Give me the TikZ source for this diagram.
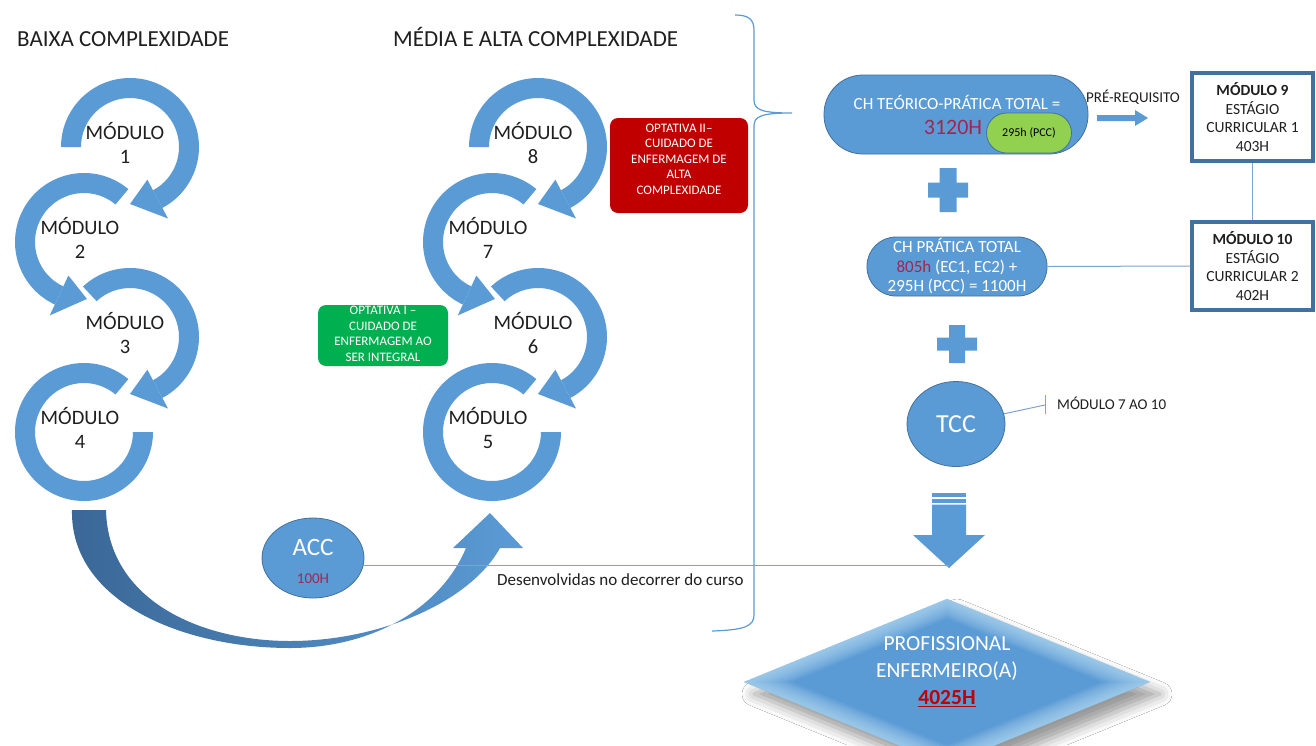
\documentclass[tikz,border=0pt]{standalone}
\usepackage{fontspec}
\setmainfont{Carlito}
\usetikzlibrary{calc,shapes.geometric,shadows.blur}

\definecolor{ringblue}{HTML}{5B9BD5}
\definecolor{darkblue}{HTML}{41719C}
\definecolor{deepblue}{HTML}{3A6796}
\definecolor{hourred}{HTML}{A0284E}
\definecolor{optred}{HTML}{C00000}
\definecolor{optgreen}{HTML}{00B050}
\definecolor{pccgreen}{HTML}{92D050}
\definecolor{thinline}{HTML}{7FA3CC}
\definecolor{glowblue}{HTML}{C4E6FA}

\newcommand{\fs}[2]{\fontsize{#1pt}{#2pt}\selectfont}
% body of a circular arrow: annular sector from angle #3 to angle #4
\newcommand{\ringarc}[4]{\fill[ringblue] ($(#1,#2)+(#3:69)$) arc[start angle=#3,end angle=#4,radius=69]
  -- ($(#1,#2)+(#4:49)$) arc[start angle=#4,end angle=#3,radius=49] -- cycle;}
% white halo separating an arrow head from the ring below it
\newcommand{\ringhalo}[4]{\draw[white,line width=3.5pt,line join=round] ($(#1,#2)+(#3:37)$) -- ($(#1,#2)+(#4:57)$) -- ($(#1,#2)+(#3:81)$);}
\newcommand{\ringhead}[4]{\fill[ringblue] ($(#1,#2)+(#3:37)$) -- ($(#1,#2)+(#4:57)$) -- ($(#1,#2)+(#3:81)$) -- cycle;}
% ring with head: centre x, centre y, start angle, head base angle, tip angle
\newcommand{\ringarrow}[5]{\ringhalo{#1}{#2}{#4}{#5}\ringarc{#1}{#2}{#3}{#4}\ringhead{#1}{#2}{#4}{#5}}

\begin{document}
\begin{tikzpicture}[x=1pt,y=1pt,
  modlabel/.style={align=center,font=\fs{20.5}{24},text=black!88,inner sep=0pt},
  heading/.style={font=\fs{23}{27},text=black!88,inner sep=0pt,anchor=base west},
  pill/.style={draw=darkblue,line width=0.8pt,fill=ringblue},
  optbox/.style={rounded corners=8pt,inner sep=0pt},
  opttext/.style={text=white,align=center,font=\fs{13}{15.5},inner sep=0pt},
  mbox/.style={draw=darkblue,line width=3.5pt,fill=white,align=center,
    font=\fs{15.5}{18.5},text=black!88,inner sep=0pt},
  conn/.style={draw=thinline,line width=1pt},
  note/.style={text=black!88,inner sep=0pt}]
\useasboundingbox (0,0) rectangle (1316,-745);
\fill[white] (0,0) rectangle (1316,-745);

% headings
\node[heading] (hlow) at (17,-46) {BAIXA COMPLEXIDADE};
\node[heading] (hhigh) at (393,-46) {MÉDIA E ALTA COMPLEXIDADE};

% low complexity chain
\ringarc{84}{-432}{50}{360}
\ringarrow{130}{-337}{133}{-62}{-90}
\ringarrow{84}{-242}{50}{245}{273}
\ringarrow{130}{-147}{180}{-62}{-90}
\node[modlabel] (m1) at (125,-143) {MÓDULO\\1};
\node[modlabel] (m2) at (80,-238) {MÓDULO\\2};
\node[modlabel] (m3) at (125,-333) {MÓDULO\\3};
\node[modlabel] (m4) at (80,-428) {MÓDULO\\4};

% medium and high complexity chain
\ringarc{492}{-432}{50}{360}
\ringarrow{538}{-337}{133}{-62}{-90}
\ringarrow{492}{-242}{50}{245}{273}
\ringarrow{538}{-147}{180}{-62}{-90}
\node[modlabel] (m8) at (533,-143) {MÓDULO\\8};
\node[modlabel] (m7) at (488,-238) {MÓDULO\\7};
\node[modlabel] (m6) at (533,-333) {MÓDULO\\6};
\node[modlabel] (m5) at (488,-428) {MÓDULO\\5};

% elective boxes
\node[optbox,fill=optgreen,minimum width=130pt,minimum height=61pt] (opt1) at (383,-335.5) {};
\node[opttext] (opt1t) at (383,-334) {OPTATIVA I --\\CUIDADO DE\\ENFERMAGEM AO\\SER INTEGRAL};
\node[optbox,fill=optred,minimum width=138pt,minimum height=95pt] (opt2) at (679,-165.5) {};
\node[opttext] (opt2t) at (679,-159) {OPTATIVA II--\\CUIDADO DE\\ENFERMAGEM DE\\ALTA\\COMPLEXIDADE};

% sweeping arrow from the first block to the second
\shade[left color=deepblue,right color=ringblue]
  (72,-510) .. controls (70,-600) and (180,-648) .. (290,-648)
  .. controls (370,-648) and (440,-610) .. (466,-548)
  -- (453,-548) -- (490,-513) -- (523,-548) -- (500,-548)
  .. controls (470,-602) and (380,-641) .. (290,-641)
  .. controls (200,-641) and (108,-600) .. (106,-510) -- cycle;

% brace
\draw[ringblue,line width=1.2pt]
  (735,-15) .. controls (748,-15) and (754,-19) .. (754,-30) -- (754,-100)
  .. controls (754,-110) and (762,-113) .. (792,-113)
  .. controls (762,-113) and (754,-116) .. (754,-126) -- (754,-615)
  .. controls (754,-626) and (745,-630) .. (712,-631);

% workload blocks
\node[pill,minimum width=264pt,minimum height=79pt,rounded corners=39pt] (cht) at (956,-114.5) {};
\node[text=white,font=\fs{17}{20},inner sep=0pt] (chtt) at (957,-102) {CH TEÓRICO-PRÁTICA TOTAL =};
\node[text=hourred,font=\fs{22}{26},inner sep=0pt] (h3120) at (953,-127) {3120H};
\node[draw=darkblue,line width=0.8pt,fill=pccgreen,minimum width=85pt,minimum height=40pt,
  rounded corners=20pt,inner sep=0pt,font=\fs{12}{14}] (pcc) at (1029,-133) {295h (PCC)};

\node[note,font=\fs{15}{18}] (prereq) at (1133,-97) {PRÉ-REQUISITO};
\fill[ringblue] (1097,-115) -- (1135,-115) -- (1135,-110) -- (1148,-118)
  -- (1135,-126) -- (1135,-121) -- (1097,-121) -- cycle;

\node[mbox,minimum width=121pt,minimum height=88pt] (m9) at (1252.5,-117)
  {\textbf{MÓDULO 9}\\ESTÁGIO\\CURRICULAR 1\\403H};
\node[mbox,minimum width=121pt,minimum height=88pt] (m10) at (1252.5,-266)
  {\textbf{MÓDULO 10}\\ESTÁGIO\\CURRICULAR 2\\402H};
\draw[conn] (m9.south) -- (m10.north);

% plus signs
\fill[ringblue] (928,-182.5) rectangle (968,-197.5) (939.5,-168) rectangle (956.5,-212);
\fill[ringblue] (937,-337.5) rectangle (977,-350.5) (949,-325) rectangle (965,-363);

\node[pill,minimum width=180pt,minimum height=59pt,rounded corners=29pt,align=center,
  text=white,font=\fs{17}{19.5},inner sep=0pt] (chp) at (957,-266.5)
  {CH PRÁTICA TOTAL\\\textcolor{hourred}{805h} (EC1, EC2) +\\295H (PCC) = 1100H};
\draw[conn] (chp.east) -- (m10.west);

% final paper
\node[ellipse,pill,minimum width=98pt,minimum height=85pt,inner sep=0pt,
  text=white,font=\fs{26}{30}] (tcc) at (956,-424) {TCC};
\coordinate (tick) at (1045,-405);
\draw[conn] (tcc.12) -- (tick);
\draw[conn] (1045,-395) -- (1045,-414);
\node[note,font=\fs{15}{18},anchor=base west] (tccmods) at (1057,-409) {MÓDULO 7 AO 10};

% striped down arrow
\fill[ringblue] (932,-493) rectangle (966,-496.5);
\fill[ringblue] (932,-498.5) rectangle (966,-502.5);
\fill[ringblue] (932,-504.5) -- (966,-504.5) -- (966,-535) -- (985,-535)
  -- (949,-568) -- (913,-535) -- (932,-535) -- cycle;
\coordinate (dtip) at (949,-566);

% complementary activities
\node[ellipse,pill,minimum width=102pt,minimum height=80pt,inner sep=0pt] (acc) at (313,-558) {};
\node[text=white,font=\fs{25}{30},inner sep=0pt] (acct) at (313,-547) {ACC};
\node[text=hourred,font=\fs{15}{18},inner sep=0pt] (acch) at (313,-579) {100H};
\draw[conn] (acc.-9) -- (acc.-9 -| dtip);
\node[note,font=\fs{17}{20},anchor=base west] (accnote) at (497,-585) {Desenvolvidas no decorrer do curso};

% outcome diamond with soft shadow and inner edge glow
\fill[ringblue,blur shadow={shadow xshift=10pt,shadow yshift=-12pt,shadow blur radius=12pt,shadow opacity=40}]
  (744,-682) -- (947,-599) -- (1150,-682) -- (947,-765) -- cycle;
\begin{scope}
  \clip (744,-682) -- (947,-599) -- (1150,-682) -- (947,-765) -- cycle;
  \foreach \w in {36,33,...,3}
    \draw[glowblue,opacity=0.08,line width=\w pt,line join=round]
      (744,-682) -- (947,-599) -- (1150,-682) -- (947,-765) -- cycle;
\end{scope}
\node[text=white,align=center,font=\fs{21.5}{27},inner sep=0pt] (prof) at (947,-672)
  {PROFISSIONAL\\ENFERMEIRO(A)\\\textcolor{optred}{\textbf{\underline{4025H}}}};
\end{tikzpicture}
\end{document}
